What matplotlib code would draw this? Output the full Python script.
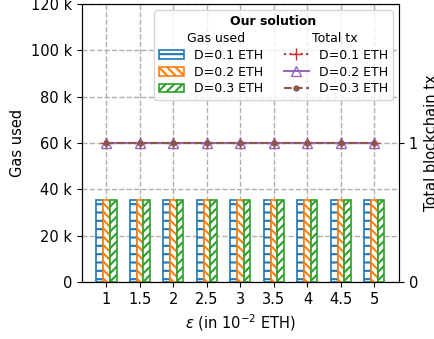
import numpy as np
import matplotlib.pyplot as plt
import matplotlib.ticker as ticker
from matplotlib.patches import Rectangle

plt.rcParams['hatch.linewidth'] = 1.5

# epsilon values (in 1e-2 ETH)
eps = [1, 1.5, 2, 2.5, 3, 3.5, 4, 4.5, 5]
deposits = ['D=0.1 ETH', 'D=0.2 ETH', 'D=0.3 ETH']

# gas used per deposit
gas_d01 = [35500, 35500, 35500, 35500, 35500, 35500, 35500, 35500, 35500]
gas_d02 = [35500, 35500, 35500, 35500, 35500, 35500, 35500, 35500, 35500]
gas_d03 = [35500, 35500, 35500, 35500, 35500, 35500, 35500, 35500, 35500]

# total blockchain transactions per deposit
tx_d01 = [1, 1, 1, 1, 1, 1, 1, 1, 1]
tx_d02 = [1, 1, 1, 1, 1, 1, 1, 1, 1]
tx_d03 = [1, 1, 1, 1, 1, 1, 1, 1, 1]

fig, ax = plt.subplots(figsize=(4.35, 3.39), dpi=100)
ax2 = ax.twinx()

x = np.array(eps)
w = 0.1
colors = ['tab:blue', 'tab:orange', 'tab:green']
hatches = ['--', '\\\\\\\\', '////']
bars = []
for i, gas in enumerate([gas_d01, gas_d02, gas_d03]):
    b = ax.bar(x + (i - 1) * w, gas, w, color='white', edgecolor=colors[i],
               hatch=hatches[i], linewidth=1.2, zorder=2)
    bars.append(b)

ax.set_axisbelow(True)
ax.grid(True, linestyle='--', color='#b0b0b0', linewidth=1)
ax.set_ylim(0, 120000)
ax.set_xticks(eps)
ax.set_xticklabels(['1', '1.5', '2', '2.5', '3', '3.5', '4', '4.5', '5'])
ax.yaxis.set_major_formatter(ticker.FuncFormatter(
    lambda v, p: '0' if v == 0 else '%d k' % (v / 1000)))
ax.set_ylabel('Gas used', fontsize=10.5)
ax.set_xlabel(r'$\epsilon$ (in $10^{-2}$ ETH)', fontsize=10.5)
ax.tick_params(labelsize=10.5)

l1, = ax2.plot(x, tx_d01, color='tab:red', linestyle=':', marker='+',
               markersize=9, label=deposits[0])
l2, = ax2.plot(x, tx_d02, color='tab:purple', linestyle='-', marker='^',
               markerfacecolor='none', markersize=7.5, label=deposits[1])
l3, = ax2.plot(x, tx_d03, color='tab:brown', linestyle='--', marker='o',
               markersize=3.5, label=deposits[2])
ax2.set_ylim(0, 2)
ax2.set_yticks([0, 1])
ax2.set_ylabel('Total blockchain tx', fontsize=10.5)
ax2.tick_params(labelsize=10.5)

blank = Rectangle((0, 0), 1, 1, fill=False, edgecolor='none', visible=False)
handles = [blank] + bars + [blank, l1, l2, l3]
labels = ['Gas used'] + deposits + ['Total tx'] + deposits
leg = ax2.legend(handles, labels, ncol=2, loc='upper right', fontsize=9,
                 title='Our solution',
                 title_fontproperties={'weight': 'bold', 'size': 9},
                 labelspacing=0.3, columnspacing=1.6)
for t in [leg.get_texts()[0], leg.get_texts()[4]]:
    t.set_x(-7)

fig.subplots_adjust(left=0.1885, right=0.917, top=0.988, bottom=0.168)
fig.savefig('out.png')
